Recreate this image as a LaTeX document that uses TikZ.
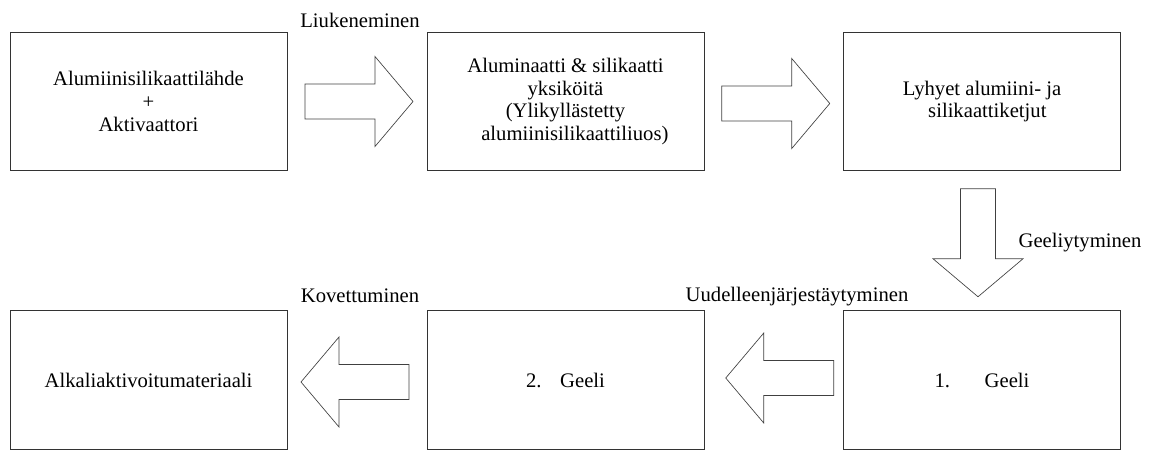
\documentclass[tikz,border=0pt]{standalone}
\usepackage{fontspec}
\setmainfont{Liberation Serif}
\usetikzlibrary{calc}

\tikzset{
  stage/.style={draw=black!80,line width=.75pt,minimum width=207.75pt,minimum height=104pt,
                align=center,inner sep=0pt,font=\fontsize{15.5}{17}\selectfont},
  blockarrow/.style={draw=black!75,line width=.5pt,line join=miter},
  steplabel/.style={inner sep=0pt,font=\fontsize{15.5}{17}\selectfont}
}

\begin{document}
\begin{tikzpicture}[x=.75pt,y=-.75pt]
      \useasboundingbox (0,0) rectangle (1154,450);
      % upper row
        \node[stage] (src) at (148.5,101.5) {Alumiinisilikaattilähde\\+\\Aktivaattori};
        \node[stage] (units) at (565.5,101.5) {Aluminaatti \& silikaatti\\yksiköitä\\(Ylikyllästetty\\\hspace*{14pt}alumiinisilikaattiliuos)};
        \node[stage] (chains) at (982,101.5) {Lyhyet alumiini- ja\\\hspace*{8pt}silikaattiketjut};
      % lower row
        \node[stage] (mat) at (148.5,380) {Alkaliaktivoitumateriaali};
        \node[stage] (gel2) at (565.5,380) {2.\hspace{14pt}Geeli};
        \node[stage] (gel1) at (982,380) {1.\hspace{26pt}Geeli};
      % arrow centres
        \coordinate (a1) at ($(src.east)!.5!(units.west)+(2,0)$);
        \coordinate (a2) at ($(units.east)!.5!(chains.west)+(2,2)$);
        \coordinate (a3) at ($(chains.south)!.5!(gel1.north)+(-4,2)$);
        \coordinate (a4) at ($(gel2.east)!.5!(gel1.west)+(6,-2)$);
        \coordinate (a5) at ($(mat.east)!.5!(gel2.west)+(-2,2)$);
        \foreach \c/\r in {a1/0,a2/0,a3/-90,a4/180,a5/180}
          \draw[blockarrow,shift={(\c)},rotate=\r] (-54,-17.5) -- (16,-17.5) -- (16,-45)
                -- (54,0) -- (16,45) -- (16,17.5) -- (-54,17.5) -- cycle;
      % step names
        \node[steplabel] (l1) at (360,20) {Liukeneminen};
        \node[steplabel] (l3) at (1080,243) {Geeliytyminen};
        \node[steplabel] (l4) at (797,297) {Uudelleenjärjestäytyminen};
        \node[steplabel] (l5) at (360,296) {Kovettuminen};
      \end{tikzpicture}
\end{document}
